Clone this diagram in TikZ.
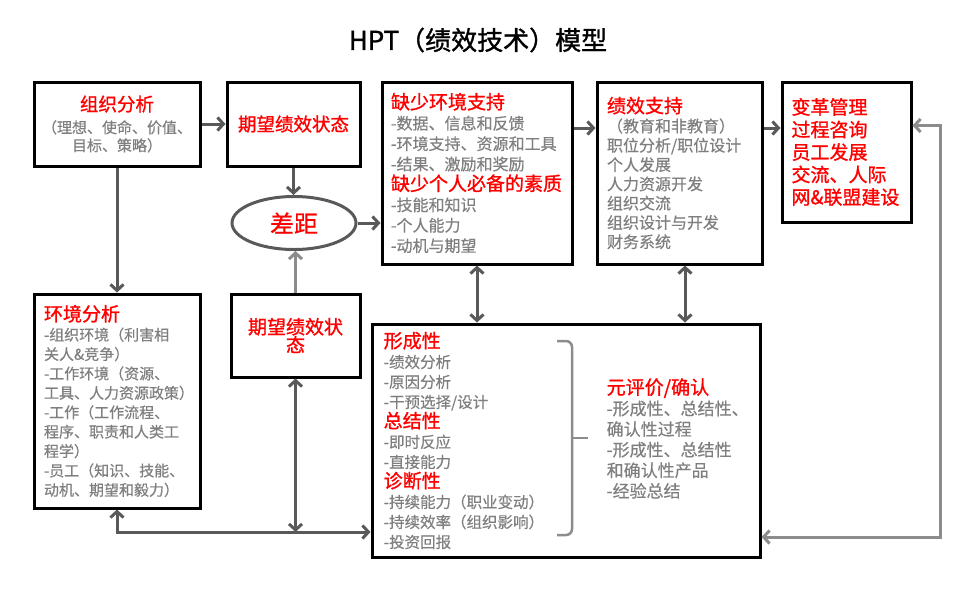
\documentclass[tikz,border=0pt]{standalone}
\usepackage{fontspec}
\setmainfont{Noto Sans CJK SC}[FakeBold=0.5]
\newfontfamily\hdfont{Noto Sans CJK SC}[FakeBold=1.2]
\usetikzlibrary{arrows.meta,shapes.geometric}
\definecolor{hptred}{HTML}{FF0000}
\definecolor{txtgray}{HTML}{7F7F7F}
\definecolor{lnDark}{HTML}{595959}
\definecolor{lnLight}{HTML}{8C8C8C}
% red heading, optional size
\newcommand{\hd}[2][19]{{\hdfont\fontsize{#1}{20}\selectfont\color{hptred}#2}}

\begin{document}
\begin{tikzpicture}[x=1pt,y=-1pt]
  \tikzstyle{box}   = [rectangle,draw=black,line width=3pt,inner sep=0pt,text=txtgray]
  \tikzstyle{gapV}  = [ellipse,draw=lnDark,line width=3pt,inner sep=0pt,minimum width=124pt,minimum height=53pt]
  \tikzstyle{col}   = [inner sep=0pt,align=left,text=txtgray,anchor=west]
  \tikzstyle{sec}   = [draw=lnDark,line width=3pt,-{Straight Barb[length=6pt,width=13pt]}]
  \tikzstyle{dsec}  = [sec,{Straight Barb[length=6pt,width=13pt]}-{Straight Barb[length=6pt,width=13pt]}]
  \tikzstyle{lsec}  = [sec,draw=lnLight]
  \tikzstyle{brace} = [draw=lnLight,line width=2.5pt,rounded corners=6pt]
  \useasboundingbox (0,0) rectangle (960,600);
  % title
  \path (478,40) node[font=\hdfont\fontsize{26}{30}\selectfont](title) {HPT（绩效技术）模型};
  % top row
  \path (117,124) node[box,minimum width=166pt,minimum height=84pt,align=center,
    font=\fontsize{15}{18}\selectfont](org) {\hd[18.5]{组织分析}\\[4pt]（理想、使命、价值、\\目标、策略）};
  \path (293.5,124) node[box,minimum width=133pt,minimum height=84pt](goal) {\hd[18.5]{期望绩效状态}};
  \path (294,223) node[gapV](gap) {{\fontsize{24}{26}\selectfont\color{hptred}差距}};
  \path (477,173) node[box,minimum width=190pt,minimum height=182pt,text width=172pt,align=left,
    font=\fontsize{16}{20.4}\selectfont](lack)
    {\hd{缺少环境支持}\\-数据、信息和反馈\\-环境支持、资源和工具\\-结果、激励和奖励\\
     \hd{缺少个人必备的素质}\\-技能和知识\\-个人能力\\-动机与期望};
  \path (679.5,173) node[box,minimum width=165pt,minimum height=182pt,text width=145pt,align=left,
    font=\fontsize{16}{19.3}\selectfont](supp)
    {\hd{绩效支持}\\（教育和非教育）\\职位分析/职位设计\\个人发展\\人力资源开发\\组织交流\\组织设计与开发\\财务系统};
  \path (846.5,152) node[box,minimum width=129pt,minimum height=140pt,text width=110pt,align=left,
    text=hptred,font=\hdfont\fontsize{19}{22.5}\selectfont](change)
    {变革管理\\过程咨询\\员工发展\\交流、人际\\网\&联盟建设};
  % lower row
  \path (117,401) node[box,minimum width=166pt,minimum height=214pt,text width=146pt,align=left,
    font=\fontsize{15}{19.4}\selectfont](env)
    {\hd{环境分析}\\-组织环境（利害相\\关人\&竞争）\\-工作环境（资源、\\工具、人力资源政策）\\
     -工作（工作流程、\\程序、职责和人类工\\程学）\\-员工（知识、技能、\\动机、期望和毅力）};
  \path (295.5,335.5) node[box,minimum width=129pt,minimum height=83pt,align=center,
    font=\fontsize{19}{18}\selectfont](goal2) {\hd{期望绩效状}\\\hd{态}};
  \path (566,440.5) node[box,minimum width=388pt,minimum height=233pt](eval) {};
  \node[col,font=\fontsize{15.5}{20}\selectfont] (evl) at ([xshift=13pt]eval.west)
    {\hd{形成性}\\-绩效分析\\-原因分析\\-干预选择/设计\\\hd{总结性}\\-即时反应\\-直接能力\\
     \hd{诊断性}\\-持续能力（职业变动）\\-持续效率（组织影响）\\-投资回报};
  \node[col,font=\fontsize{17}{20.6}\selectfont] (evr) at ([xshift=236pt,yshift=2pt]eval.west)
    {\hd{元评价/确认}\\-形成性、总结性、\\确认性过程\\-形成性、总结性\\和确认性产品\\-经验总结};
  % bracket
  \draw[brace] (557,341) -- (572,341) -- (572,535) -- (557,535);
  \draw[brace] (572,438) -- (588,438);
  % connectors
  \coordinate (bl) at (117,532);
  \coordinate (fb) at (940,537);
  \draw[sec]  (org) -- (goal);
  \draw[sec]  (goal.south) -- (goal.south |- gap.north);
  \draw[sec]  (gap.east) -- (gap.east -| lack.west);
  \draw[sec]  ([yshift=-47.5pt]lack.north east) -- ([yshift=-47.5pt]supp.north west);
  \draw[sec]  ([yshift=-47.5pt]supp.north east) -- ([yshift=-47.5pt]change.north west);
  \draw[dsec] (lack.south) -- (lack.south |- eval.north);
  \draw[dsec] ([xshift=5.5pt]supp.south) -- ([xshift=5.5pt]supp.south |- eval.north);
  \draw[sec]  (org) -- (env);
  \draw[lsec] (goal2.north) -- (goal2.north |- gap.south);
  \draw[dsec] (env.south) -- (env.south |- bl) -- (eval.west |- bl);
  \draw[dsec] (goal2.south) -- (goal2.south |- bl);
  \draw[dsec,draw=lnLight] (eval.east |- fb) -- (fb) |- ([yshift=-45pt]change.north east);
\end{tikzpicture}
\end{document}
